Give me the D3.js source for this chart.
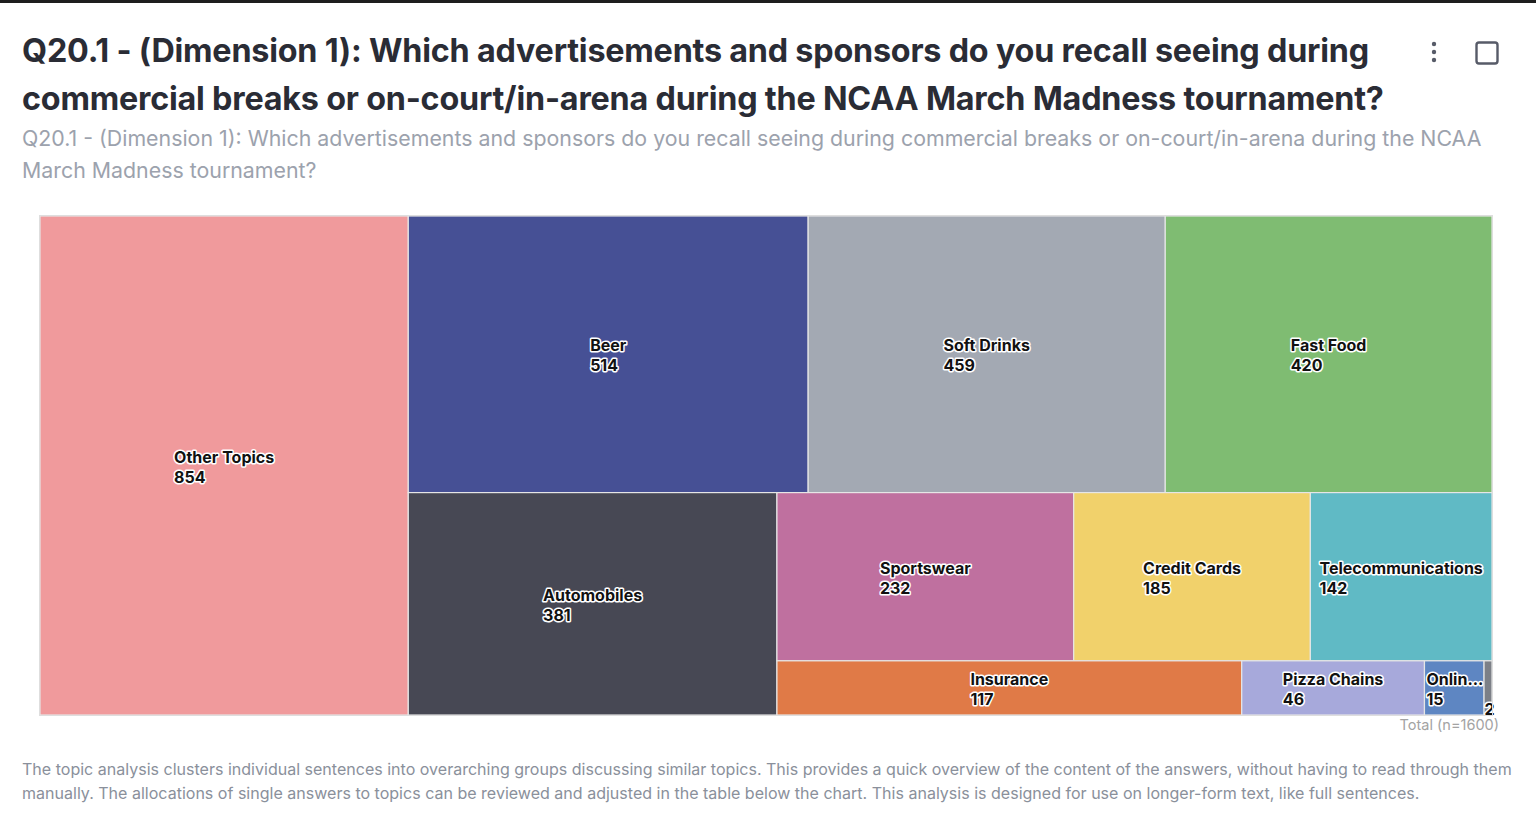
<!DOCTYPE html>
<html>
<head>
<meta charset="utf-8">
<script src="https://cdn.jsdelivr.net/npm/d3@7"></script>
<style>
  html, body { margin: 0; padding: 0; background: #fff; }
  body { width: 1536px; height: 828px; overflow: hidden; font-family: Inter, "Noto Sans", sans-serif; }
  #topbar { position: absolute; left: 0; top: 0; width: 1536px; height: 3px; background: #1e1e1e; }
  h1 { position: absolute; left: 22px; top: 27px; width: 1395px; margin: 0; font-size: 32.3px; line-height: 48px; font-weight: 700; color: #2a2c35; letter-spacing: -0.2px; }
  .sub { position: absolute; left: 22px; top: 122px; width: 1495px; margin: 0; font-size: 21.35px; line-height: 32px; color: #9ca2ad; }
  .foot { position: absolute; left: 22px; top: 757px; width: 1500px; margin: 0; font-size: 16.05px; line-height: 24px; color: #8a909b; }
  svg { position: absolute; left: 0; top: 0; }
</style>
</head>
<body>
<div id="topbar"></div>
<h1>Q20.1 - (Dimension 1): Which advertisements and sponsors do you recall seeing during commercial breaks or on-court/in-arena during the NCAA March Madness tournament?</h1>
<p class="sub">Q20.1 - (Dimension 1): Which advertisements and sponsors do you recall seeing during commercial breaks or on-court/in-arena during the NCAA March Madness tournament?</p>
<p class="foot">The topic analysis clusters individual sentences into overarching groups discussing similar topics. This provides a quick overview of the content of the answers, without having to read through them manually. The allocations of single answers to topics can be reviewed and adjusted in the table below the chart. This analysis is designed for use on longer-form text, like full sentences.</p>
<svg id="chart" width="1536" height="828"></svg>
<script>
// topics and their counts
var topics = ["Other Topics", "Beer", "Soft Drinks", "Fast Food", "Automobiles", "Sportswear",
              "Credit Cards", "Telecommunications", "Insurance", "Pizza Chains", "Online Services", "Other"];
var counts = [854, 514, 459, 420, 381, 232, 185, 142, 117, 46, 15, 2];
var colors = ["#f09a9c", "#465095", "#a3a9b3", "#7fbc72", "#474854", "#bf709f",
              "#f1d16b", "#60bac5", "#e07a47", "#a7a9db", "#5e86c2", "#7c8087"];
var totalN = 1600;

var svg = d3.select("#chart"),
    margin = {left: 40, top: 216},
    width = 1452,
    height = 499;

// header icons
var icons = svg.append("g").attr("fill", "#575b68");
[44, 52, 60].forEach(function(y) {
    icons.append("circle").attr("cx", 1434).attr("cy", y).attr("r", 2.2);
});
svg.append("rect")
    .attr("x", 1476.5).attr("y", 42.5).attr("width", 21).attr("height", 21).attr("rx", 2.5)
    .attr("fill", "none").attr("stroke", "#575b68").attr("stroke-width", 2.4);

// squarified tiling that flips direction each strip and stops a strip
// when adding a node makes the previous node's aspect ratio worse
function alternateTile(parent, x0, y0, x1, y1) {
    var nodes = parent.children, n = nodes.length,
        k = (x1 - x0) * (y1 - y0) / parent.value,
        i = 0, vertical = true;
    while (i < n) {
        var side = vertical ? y1 - y0 : x1 - x0;
        var sum = nodes[i].value * k, j = i + 1;
        while (j < n) {
            var last = nodes[j - 1].value * k;
            var t0 = sum / side, l0 = last / t0;
            var before = Math.max(t0 / l0, l0 / t0);
            var nsum = sum + nodes[j].value * k;
            var t1 = nsum / side, l1 = last / t1;
            var after = Math.max(t1 / l1, l1 / t1);
            if (after > before) break;
            sum = nsum; j++;
        }
        var thick = j === n ? (vertical ? x1 - x0 : y1 - y0) : sum / side;
        var pos = vertical ? y0 : x0;
        for (var m = i; m < j; m++) {
            var len = nodes[m].value * k / thick, nd = nodes[m];
            if (vertical) { nd.x0 = x0; nd.x1 = x0 + thick; nd.y0 = pos; nd.y1 = pos + len; }
            else { nd.y0 = y0; nd.y1 = y0 + thick; nd.x0 = pos; nd.x1 = pos + len; }
            pos += len;
        }
        if (vertical) x0 += thick; else y0 += thick;
        i = j; vertical = !vertical;
    }
}

var data = {name: "root", children: topics.map(function(t, i) {
    return {name: t, value: counts[i], color: colors[i]};
})};

var root = d3.hierarchy(data)
    .sum(function(d) { return d.value || 0; });

d3.treemap()
    .size([width, height])
    .tile(alternateTile)
    .round(false)(root);

var g = svg.append("g").attr("transform", "translate(" + margin.left + "," + margin.top + ")");

var cell = g.selectAll("g.cell")
    .data(root.leaves())
    .enter().append("g")
    .attr("class", "cell");

cell.append("rect")
    .attr("x", function(d) { return d.x0; })
    .attr("y", function(d) { return d.y0; })
    .attr("width", function(d) { return d.x1 - d.x0; })
    .attr("height", function(d) { return d.y1 - d.y0; })
    .attr("fill", function(d) { return d.data.color; })
    .attr("stroke", "#e6e6e6")
    .attr("stroke-width", 1.2);

g.append("rect")
    .attr("x", -0.5).attr("y", -0.5)
    .attr("width", width + 1).attr("height", height + 1)
    .attr("fill", "none").attr("stroke", "#dedede");

var ctx = document.createElement("canvas").getContext("2d");
ctx.font = "700 16px Inter";
function fit(text, maxW) {
    if (ctx.measureText(text).width <= maxW) return text;
    for (var n = text.length - 1; n > 0; n--) {
        var t = text.slice(0, n) + "...";
        if (ctx.measureText(t).width <= maxW) return t;
    }
    return "";
}

cell.each(function(d) {
    var w = d.x1 - d.x0;
    var name = fit(d.data.name, w - 2);
    var val = String(d.value);
    var lab = d3.select(this).append("text")
        .attr("font-family", "Inter, sans-serif")
        .attr("font-weight", 700)
        .attr("font-size", 16)
        .attr("fill", "#111")
        .attr("stroke", "#fff")
        .attr("stroke-width", 3)
        .attr("stroke-linejoin", "round")
        .attr("paint-order", "stroke");
    if (name === "") {
        lab.attr("x", d.x0 + 0.5).attr("y", d.y1 - 0.5).text(val);
        return;
    }
    var bw = Math.max(ctx.measureText(name).width, ctx.measureText(val).width);
    var x = Math.max(d.x0 + 2, (d.x0 + d.x1) / 2 - bw / 2);
    var cy = (d.y0 + d.y1) / 2;
    lab.append("tspan").attr("x", x).attr("y", cy - 3).text(name);
    lab.append("tspan").attr("x", x).attr("y", cy + 17).text(val);
});

svg.append("text")
    .attr("x", 1499).attr("y", 730)
    .attr("text-anchor", "end")
    .attr("font-family", "Inter, sans-serif")
    .attr("font-size", 14.5)
    .attr("fill", "#a3a3a3")
    .text("Total (n=" + totalN + ")");
</script>
</body>
</html>
